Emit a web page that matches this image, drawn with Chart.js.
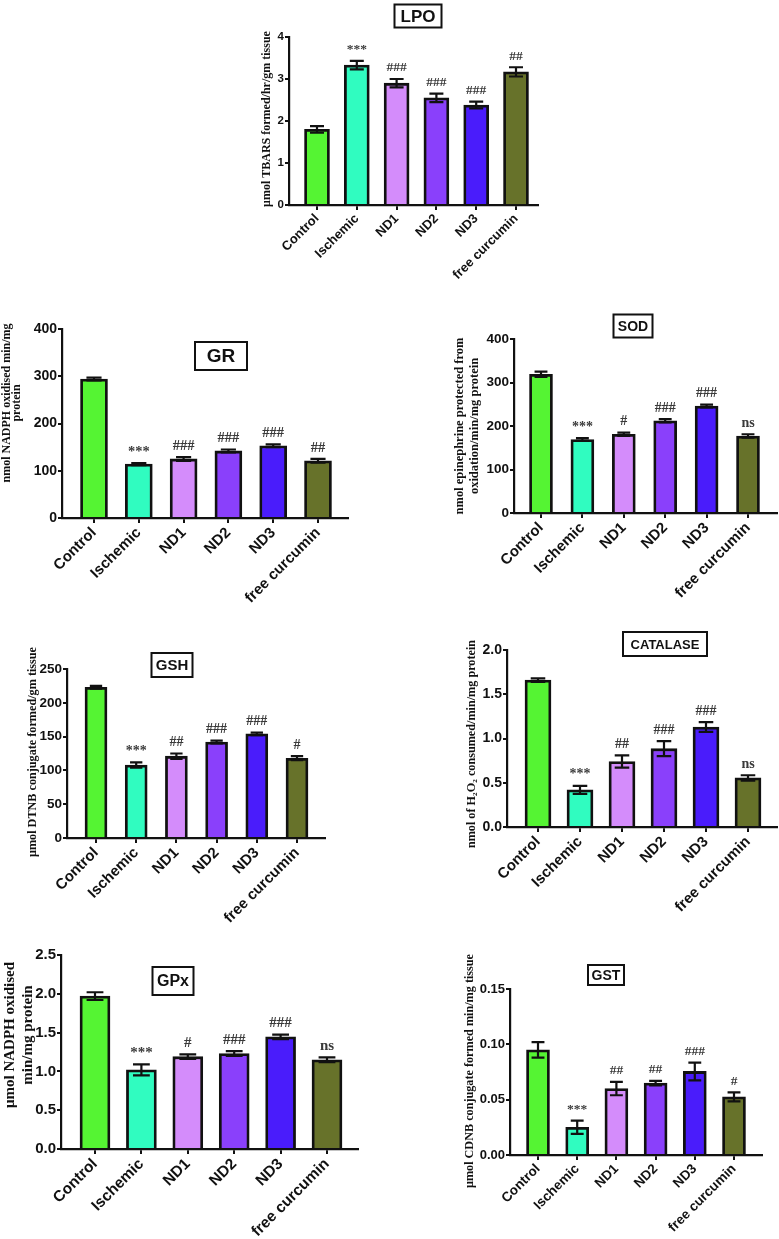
<!DOCTYPE html>
<html lang="en">
<head>
<meta charset="UTF-8">
<title>Oxidative stress markers</title>
<script src="https://cdn.jsdelivr.net/npm/chart.js"></script>
<style>
  html, body { margin: 0; padding: 0; background: #fff; overflow: hidden; }
  #page { position: relative; width: 779px; height: 1239px; overflow: hidden; }
  .panel { position: absolute; }
</style>
</head>
<body>
<div id="page"></div>
<script>
// groups and colours shared by all panels
const groups = ['Control', 'Ischemic', 'ND1', 'ND2', 'ND3', 'free curcumin'];
const barColors = ['#55f433', '#30fcc0', '#d48cfb', '#8a40fb', '#4a1cfb', '#67722a'];

// LPO
const lpoMean = [1.80, 3.33, 2.90, 2.55, 2.38, 3.17];
const lpoSem = [0.08, 0.10, 0.10, 0.10, 0.08, 0.11];
const lpoSig = ['', '***', '###', '###', '###', '##'];
const lpoTicks = [0, 1, 2, 3, 4];

// GR
const grMean = [294, 114, 125, 142, 153, 121];
const grSem = [3, 2, 4, 3, 3, 4];
const grSig = ['', '***', '###', '###', '###', '##'];
const grTicks = [0, 100, 200, 300, 400];

// SOD
const sodMean = [319, 169, 181, 212, 246, 177];
const sodSem = [6, 3, 4, 4, 3, 4];
const sodSig = ['', '***', '#', '###', '###', 'ns'];
const sodTicks = [0, 100, 200, 300, 400];

// GSH
const gshMean = [223, 108, 121, 142, 154, 118];
const gshSem = [2, 4, 4, 2, 2, 3];
const gshSig = ['', '***', '##', '###', '###', '#'];
const gshTicks = [0, 50, 100, 150, 200, 250];

// CATALASE
const catMean = [1.66, 0.42, 0.74, 0.885, 1.13, 0.555];
const catSem = [0.02, 0.045, 0.07, 0.085, 0.055, 0.03];
const catSig = ['', '***', '##', '###', '###', 'ns'];
const catTicks = [0, 0.5, 1.0, 1.5, 2.0];

// GPx
const gpxMean = [1.97, 1.02, 1.19, 1.23, 1.445, 1.15];
const gpxSem = [0.05, 0.07, 0.03, 0.03, 0.03, 0.03];
const gpxSig = ['', '***', '#', '###', '###', 'ns'];
const gpxTicks = [0, 0.5, 1.0, 1.5, 2.0, 2.5];

// GST
const gstMean = [0.095, 0.025, 0.060, 0.065, 0.0755, 0.0525];
const gstSem = [0.007, 0.006, 0.006, 0.002, 0.008, 0.004];
const gstSig = ['', '***', '##', '##', '###', '#'];
const gstTicks = [0, 0.05, 0.10, 0.15];

const SANS = "'Liberation Sans', Arial, sans-serif";
const SERIF = "'Liberation Serif', 'Times New Roman', 'DejaVu Serif', serif";
const INK = '#111';

// layout of each panel, page coordinates
const panels = [
  { title: 'LPO', mean: lpoMean, sem: lpoSem, sig: lpoSig, ticks: lpoTicks, dec: 0,
    box: [240, 0, 305, 290], axis: { left: 289, right: 538, top: 37, bottom: 205 }, c0: 317, c1: 516, barW: 25,
    tickFont: 11.5, labelFont: 13, sigFont: 13.5,
    tBox: [418, 16, 47, 23, 17],
    yTitle: ['μmol TBARS formed/hr/gm tissue'], yX: 267, yC: 119, yFont: 12, yGap: 12 },
  { title: 'GR', mean: grMean, sem: grSem, sig: grSig, ticks: grTicks, dec: 0,
    box: [0, 290, 390, 345], axis: { left: 62, right: 348, top: 329, bottom: 518 }, c0: 94, c1: 318, barW: 27,
    tickFont: 14, labelFont: 15, sigFont: 14.5,
    tBox: [221, 356, 52, 28, 19],
    yTitle: ['nmol NADPH oxidised min/mg', 'protein'], yX: 7, yC: 403, yFont: 12, yGap: 10 },
  { title: 'SOD', mean: sodMean, sem: sodSem, sig: sodSig, ticks: sodTicks, dec: 0,
    box: [390, 290, 391, 330], axis: { left: 514, right: 777, top: 339, bottom: 513 }, c0: 541, c1: 748, barW: 23,
    tickFont: 13.5, labelFont: 15, sigFont: 14,
    tBox: [633, 326, 39, 23, 14],
    yTitle: ['nmol epinephrine protected from', 'oxidation/min/mg protein'], yX: 460, yC: 426, yFont: 12.5, yGap: 15 },
  { title: 'GSH', mean: gshMean, sem: gshSem, sig: gshSig, ticks: gshTicks, dec: 0,
    box: [0, 640, 390, 300], axis: { left: 67, right: 325, top: 669, bottom: 838 }, c0: 96, c1: 297, barW: 22,
    tickFont: 13.5, labelFont: 15, sigFont: 14,
    tBox: [172, 665, 41, 24, 15],
    yTitle: ['μmol DTNB conjugate formed/gm tissue'], yX: 33, yC: 752, yFont: 12.2, yGap: 12 },
  { title: 'CATALASE', mean: catMean, sem: catSem, sig: catSig, ticks: catTicks, dec: 1,
    box: [390, 620, 391, 325], axis: { left: 507, right: 777, top: 650, bottom: 827 }, c0: 538, c1: 748, barW: 26,
    tickFont: 14, labelFont: 15, sigFont: 14,
    tBox: [665, 644, 84, 24, 13],
    yTitle: ['nmol of H₂O₂ consumed/min/mg protein'], yX: 472, yC: 744, yFont: 12.2, yGap: 12 },
  { title: 'GPx', mean: gpxMean, sem: gpxSem, sig: gpxSig, ticks: gpxTicks, dec: 1,
    box: [0, 940, 392, 299], axis: { left: 61, right: 358, top: 955, bottom: 1149 }, c0: 95, c1: 327, barW: 30,
    tickFont: 15, labelFont: 15.5, sigFont: 15,
    tBox: [173, 981, 41, 28, 16],
    yTitle: ['μmol NADPH oxidised', 'min/mg protein'], yX: 10, yC: 1035, yFont: 15, yGap: 18.5 },
  { title: 'GST', mean: gstMean, sem: gstSem, sig: gstSig, ticks: gstTicks, dec: 2,
    box: [390, 945, 391, 294], axis: { left: 510, right: 762, top: 989, bottom: 1155 }, c0: 538, c1: 734, barW: 23,
    tickFont: 13, labelFont: 13.5, sigFont: 13.5,
    tBox: [606, 975, 36, 20, 14],
    yTitle: ['μmol CDNB conjugate formed min/mg tissue'], yX: 470, yC: 1071, yFont: 12.2, yGap: 12 }
];

// error bars, significance marks, boxed title and y title
const decor = {
  id: 'decor',
  afterDatasetsDraw(chart, args, o) {
    const p = o.panel;
    const ctx = chart.ctx;
    const xs = chart.scales.x, ys = chart.scales.y;
    const bx = p.box[0], by = p.box[1];
    ctx.save();
    ctx.strokeStyle = INK;
    ctx.lineWidth = 2.2;
    ctx.lineCap = 'butt';
    const cw = p.barW * 0.28;
    p.mean.forEach((m, i) => {
      const x = xs.getPixelForValue(i);
      const hi = ys.getPixelForValue(m + p.sem[i]);
      const lo = ys.getPixelForValue(m - p.sem[i]);
      ctx.beginPath();
      ctx.moveTo(x, lo); ctx.lineTo(x, hi);
      ctx.moveTo(x - cw, hi); ctx.lineTo(x + cw, hi);
      ctx.moveTo(x - cw, lo); ctx.lineTo(x + cw, lo);
      ctx.stroke();
      if (p.sig[i]) {
        ctx.fillStyle = '#3a3a3a';
        ctx.font = 'bold ' + p.sigFont + 'px ' + SERIF;
        ctx.textAlign = 'center';
        ctx.textBaseline = 'middle';
        ctx.fillText(p.sig[i], x, hi - 11);
      }
    });

    // boxed panel title
    const [tx, ty, tw, th, tf] = p.tBox;
    ctx.fillStyle = '#fff';
    ctx.fillRect(tx - bx - tw / 2, ty - by - th / 2, tw, th);
    ctx.strokeStyle = INK;
    ctx.lineWidth = 2;
    ctx.strokeRect(tx - bx - tw / 2, ty - by - th / 2, tw, th);
    ctx.fillStyle = INK;
    ctx.font = 'bold ' + tf + 'px ' + SANS;
    ctx.textAlign = 'center';
    ctx.textBaseline = 'middle';
    ctx.fillText(p.title, tx - bx, ty - by + 1);

    // rotated y axis title
    ctx.save();
    ctx.translate(p.yX - bx, p.yC - by);
    ctx.rotate(-Math.PI / 2);
    ctx.font = 'bold ' + p.yFont + 'px ' + SERIF;
    p.yTitle.forEach((line, k) => ctx.fillText(line, 0, k * p.yGap));
    ctx.restore();
    ctx.restore();
  }
};

const page = document.getElementById('page');

function makePanel(p) {
  const [bx, by, bw, bh] = p.box;
  const a = p.axis;
  const wrap = document.createElement('div');
  wrap.className = 'panel';
  wrap.style.left = bx + 'px';
  wrap.style.top = by + 'px';
  const cv = document.createElement('canvas');
  cv.width = bw;
  cv.height = bh;
  wrap.appendChild(cv);
  page.appendChild(wrap);

  // x range so bar centres land where they sit in the figure
  const step = (p.c1 - p.c0) / (groups.length - 1);
  const xMin = -(p.c0 - a.left) / step;
  const xMax = groups.length - 1 + (a.right - p.c1) / step;

  const gridX = { drawOnChartArea: false, drawTicks: true, tickLength: 5, color: INK, lineWidth: 2, offset: false };
  const gridY = { drawOnChartArea: false, drawTicks: true, tickLength: 4, color: INK, lineWidth: 2 };

  new Chart(cv, {
    type: 'bar',
    data: {
      datasets: [{
        data: p.mean.map((v, i) => ({ x: i, y: v })),
        backgroundColor: barColors,
        borderColor: INK,
        borderWidth: 2.8,
        borderSkipped: 'start',
        barThickness: p.barW
      }]
    },
    options: {
      responsive: false,
      animation: false,
      events: [],
      layout: { padding: { left: 0, top: a.top - by, right: bx + bw - a.right, bottom: 0 } },
      plugins: {
        legend: { display: false },
        tooltip: { enabled: false },
        decor: { panel: p }
      },
      scales: {
        x: {
          type: 'linear',
          min: xMin,
          max: xMax,
          offset: false,
          afterFit: s => { s.height = by + bh - a.bottom; },
          afterBuildTicks: s => { s.ticks = groups.map((g, i) => ({ value: i })); },
          ticks: {
            callback: v => groups[v],
            minRotation: 45,
            maxRotation: 45,
            autoSkip: false,
            padding: 1,
            color: INK,
            font: { family: SANS, weight: 'bold', size: p.labelFont }
          },
          grid: gridX,
          border: { color: INK, width: 2.2 }
        },
        y: {
          min: 0,
          max: p.ticks[p.ticks.length - 1],
          afterFit: s => { s.width = a.left - bx; },
          afterBuildTicks: s => { s.ticks = p.ticks.map(v => ({ value: v })); },
          ticks: {
            callback: v => v.toFixed(p.dec),
            padding: 1,
            color: INK,
            font: { family: SANS, weight: 'bold', size: p.tickFont }
          },
          grid: gridY,
          border: { color: INK, width: 2.2 }
        }
      }
    },
    plugins: [decor]
  });
}

panels.forEach(makePanel);
</script>
</body>
</html>
